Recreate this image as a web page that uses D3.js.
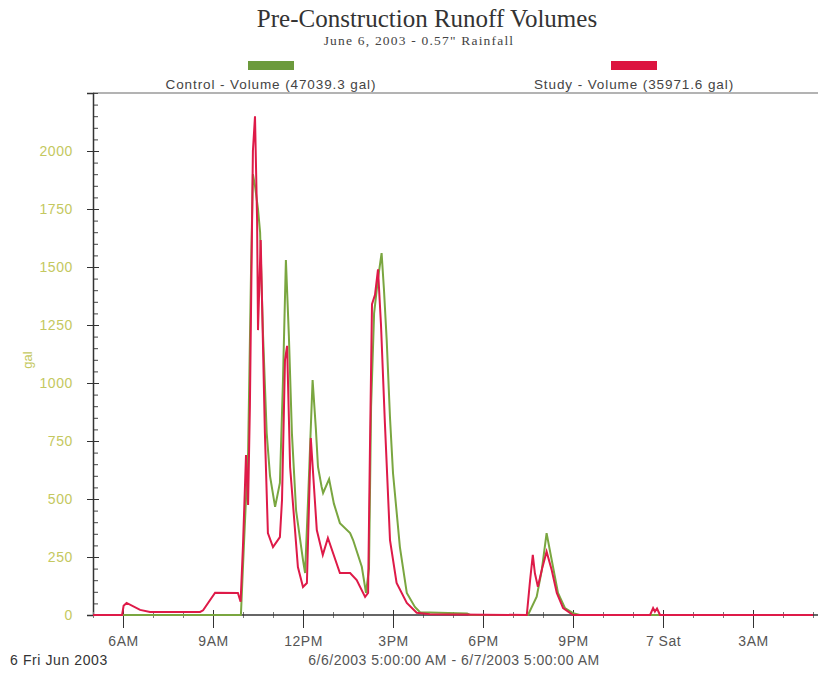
<!DOCTYPE html>
<html>
<head>
<meta charset="utf-8">
<script src="https://cdn.jsdelivr.net/npm/d3@7"></script>
<style>
  body { margin: 0; background: #fff; }
  text { font-family: "Liberation Sans", Arial, sans-serif; }
</style>
</head>
<body>
<div id="chart"></div>
<script>
// hours counted from midnight of 6 Jun 2003 (24+ = 7 Jun)
var studyHours  = [5.0, 5.97, 6.02, 6.12, 6.57, 6.9, 8.57, 8.67, 9.07, 9.83, 9.92, 10.0, 10.1, 10.17, 10.23, 10.33, 10.4, 10.47, 10.5, 10.59, 10.73, 10.83, 11.0, 11.23, 11.3, 11.4, 11.47, 11.57, 11.83, 12.0, 12.13, 12.26, 12.46, 12.66, 12.83, 13.23, 13.57, 13.79, 14.07, 14.17, 14.23, 14.3, 14.4, 14.5, 14.6, 14.73, 14.9, 15.12, 15.46, 15.79, 16.23, 19.46, 19.57, 19.66, 19.73, 19.83, 19.97, 20.12, 20.29, 20.46, 20.67, 21.0, 23.57, 23.67, 23.73, 23.8, 23.9, 29.0];
var studyValues = [0, 0, 40, 52, 22, 13, 13, 20, 96, 95, 57, 300, 690, 474, 900, 2000, 2150, 1700, 1228, 1616, 784, 353, 293, 336, 495, 1100, 1160, 638, 207, 121, 138, 763, 366, 259, 332, 181, 181, 151, 78, 95, 700, 1340, 1380, 1490, 1250, 827, 323, 138, 52, 10, 3, 0, 150, 259, 180, 122, 200, 273, 194, 95, 30, 0, 0, 30, 15, 28, 0, 0];

var controlHours  = [5.0, 9.93, 10.03, 10.17, 10.27, 10.33, 10.4, 10.5, 10.57, 10.67, 10.79, 10.9, 11.07, 11.23, 11.33, 11.43, 11.53, 11.63, 11.77, 12.0, 12.07, 12.17, 12.32, 12.43, 12.5, 12.62, 12.67, 12.87, 13.03, 13.23, 13.57, 13.67, 13.96, 14.1, 14.2, 14.27, 14.37, 14.5, 14.62, 14.7, 14.79, 14.9, 15.0, 15.23, 15.46, 15.73, 15.9, 17.47, 17.57, 19.5, 19.79, 19.96, 20.12, 20.29, 20.5, 20.73, 21.0, 21.23, 29.0];
var controlValues = [0, 0, 300, 700, 1500, 1900, 1850, 1750, 1650, 1200, 784, 600, 466, 569, 1000, 1530, 1200, 784, 450, 237, 181, 500, 1013, 800, 638, 553, 526, 586, 480, 396, 353, 323, 208, 95, 200, 900, 1300, 1450, 1560, 1400, 1185, 850, 612, 293, 95, 35, 12, 6, 0, 0, 79, 194, 353, 237, 95, 30, 8, 0, 0];

var xTickHours  = [6, 9, 12, 15, 18, 21, 24, 27];
var xTickLabels = ["6AM", "9AM", "12PM", "3PM", "6PM", "9PM", "7 Sat", "3AM"];
var yTicks = [0, 250, 500, 750, 1000, 1250, 1500, 1750, 2000];

var legendNames = ["Control - Volume (47039.3 gal)", "Study - Volume (35971.6 gal)"];

function init(){
    var w = 818, h = 678;
    var svg = d3.select("#chart").append("svg")
                .attr("width", w)
                .attr("height", h);

    var day0 = new Date(2003, 5, 6, 0, 0, 0);
    var toDate = function(hr){ return new Date(day0.getTime() + hr * 3600000); };

    var x = d3.scaleTime()
              .domain([toDate(5), toDate(29)])
              .range([93, 813]);
    var y = d3.scaleLinear()
              .domain([0, 2250])
              .range([615, 93]);

    // titles
    svg.append("text")
        .attr("x", 427).attr("y", 27)
        .attr("text-anchor", "middle")
        .style("font-family", "'Liberation Serif', 'Times New Roman', serif")
        .style("font-size", "25px")
        .style("fill", "#333")
        .text("Pre-Construction Runoff Volumes");
    svg.append("text")
        .attr("x", 419).attr("y", 45)
        .attr("text-anchor", "middle")
        .style("font-family", "'Liberation Serif', 'Times New Roman', serif")
        .style("font-size", "13.5px")
        .style("letter-spacing", "1.2px")
        .style("fill", "#444")
        .text("June 6, 2003 - 0.57\" Rainfall");

    // legend
    var legendColors = ["#6c9a3c", "#dc1440"];
    var legendX = [271, 634];
    legendNames.forEach(function(name, i){
        svg.append("rect")
            .attr("x", legendX[i] - 23).attr("y", 61)
            .attr("width", 46).attr("height", 9)
            .attr("fill", legendColors[i]);
        svg.append("text")
            .attr("x", legendX[i]).attr("y", 89)
            .attr("text-anchor", "middle")
            .style("font-size", "13.5px")
            .style("letter-spacing", "0.9px")
            .style("fill", "#444")
            .text(name);
    });

    // top frame line
    svg.append("line")
        .attr("x1", 93).attr("x2", 818)
        .attr("y1", 93).attr("y2", 93)
        .attr("stroke", "#9a9a9a").attr("stroke-width", 1.5);

    // y axis: minor ticks then major
    var yMinor = d3.range(0, 2251, 50);
    svg.append("g")
        .attr("transform", "translate(93,0)")
        .call(d3.axisRight(y).tickValues(yMinor).tickSize(5).tickFormat(""))
        .call(g => g.select(".domain").remove())
        .selectAll("line").attr("stroke", "#444");

    var yAxis = svg.append("g")
        .attr("transform", "translate(93,0)")
        .call(d3.axisLeft(y).tickValues(yTicks).tickSize(6).tickPadding(14).tickFormat(d3.format("d")));
    yAxis.select(".domain").attr("stroke", "#333").attr("stroke-width", 1.5);
    yAxis.selectAll(".tick line").attr("x2", 6).attr("x1", -6).attr("stroke", "#333");
    yAxis.selectAll(".tick text")
        .style("font-size", "14px")
        .style("letter-spacing", "0.6px")
        .style("fill", "#c4c860");

    svg.append("text")
        .attr("transform", "translate(32,360) rotate(-90)")
        .attr("text-anchor", "middle")
        .style("font-size", "13px")
        .style("fill", "#c4c860")
        .text("gal");

    // x axis: hourly minor ticks then major every 3h
    var xMinor = d3.range(5, 30, 1).map(toDate);
    svg.append("g")
        .attr("transform", "translate(0,615)")
        .call(d3.axisBottom(x).tickValues(xMinor).tickSize(3).tickFormat(""))
        .call(g => g.select(".domain").remove())
        .selectAll("line").attr("y1", -3).attr("stroke", "#777");

    var xAxis = svg.append("g")
        .attr("transform", "translate(0,615)")
        .call(d3.axisBottom(x).tickValues(xTickHours.map(toDate)).tickSize(13).tickPadding(8)
              .tickFormat(function(d, i){ return xTickLabels[i]; }));
    xAxis.select(".domain").attr("d", "M93,0H818").attr("stroke", "#333").attr("stroke-width", 1.5);
    xAxis.selectAll(".tick line").attr("y1", -5).attr("stroke", "#333");
    xAxis.selectAll(".tick text")
        .style("font-size", "14px")
        .style("letter-spacing", "0.5px")
        .style("fill", "#555");

    svg.append("text")
        .attr("x", 10).attr("y", 665)
        .style("font-size", "14px")
        .style("letter-spacing", "0.6px")
        .style("fill", "#333")
        .text("6 Fri Jun 2003");
    svg.append("text")
        .attr("x", 454).attr("y", 665)
        .attr("text-anchor", "middle")
        .style("font-size", "14px")
        .style("letter-spacing", "0.5px")
        .style("fill", "#555")
        .text("6/6/2003 5:00:00 AM - 6/7/2003 5:00:00 AM");

    // series
    var line = d3.line()
        .x(d => x(toDate(d[0])))
        .y(d => y(d[1]));

    var controlData = controlHours.map((hr, i) => [hr, controlValues[i]]);
    var studyData = studyHours.map((hr, i) => [hr, studyValues[i]]);

    svg.append("path")
        .datum(controlData)
        .attr("d", line)
        .attr("fill", "none")
        .attr("stroke", "#7aa640")
        .attr("stroke-width", 2);
    svg.append("path")
        .datum(studyData)
        .attr("d", line)
        .attr("fill", "none")
        .attr("stroke", "#de1a48")
        .attr("stroke-width", 2);
}
window.onload = init;
</script>
</body>
</html>
